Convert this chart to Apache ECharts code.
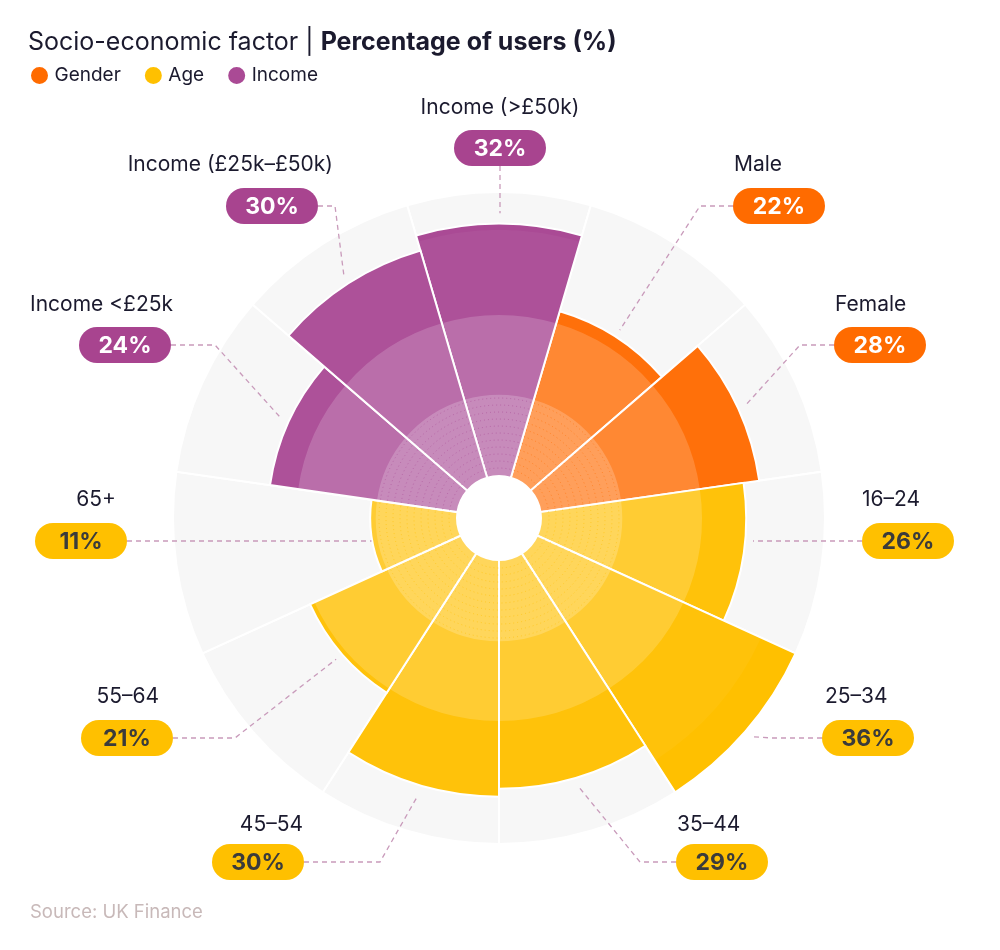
<!DOCTYPE html>
<html>
<head>
<meta charset="utf-8">
<script src="https://cdn.jsdelivr.net/npm/echarts@6/dist/echarts.min.js"></script>
<style>
  html, body { margin: 0; padding: 0; background: #fff; }
  #chart { width: 1000px; height: 950px; }
</style>
</head>
<body>
<div id="chart"></div>
<script>
// data, clockwise from the top
const categories = ['Income (>£50k)', 'Male', 'Female', '16–24', '25–34', '35–44', '45–54', '55–64', '65+', 'Income <£25k', 'Income (£25k–£50k)'];
const values = [32, 22, 28, 26, 36, 29, 30, 21, 11, 24, 30];
const groups = ['Income', 'Gender', 'Gender', 'Age', 'Age', 'Age', 'Age', 'Age', 'Age', 'Income', 'Income'];
const groupNames = ['Gender', 'Age', 'Income'];

const groupColors = { Gender: '#FF6B00', Age: '#FFC000', Income: '#AA4A95' };
const pillColors = { Gender: '#FF6B00', Age: '#FFC000', Income: '#A8448F' };
const pillText = { Gender: '#fff', Age: '#3b3b3b', Income: '#fff' };

// where each label sits (pill centre, name anchor, leader elbow)
const labelPos = [
  { pill: [500, 148], name: [500, 108, 'center'], mode: 'v', gap: 1.3 },
  { pill: [779, 206], name: [734, 165, 'left'], elbow: 700, gap: 1 },
  { pill: [880, 345], name: [835, 305, 'left'], elbow: 800, gap: 1 },
  { pill: [908, 541], name: [862, 500, 'left'], mode: 'h', gap: 1 },
  { pill: [868, 738], name: [825, 697, 'left'], elbow: 772, gap: 1 },
  { pill: [722, 862], name: [677, 825, 'left'], elbow: 640, gap: 1 },
  { pill: [258, 862], name: [303, 825, 'right'], elbow: 380, gap: 1.5 },
  { pill: [127, 738], name: [159, 697, 'right'], elbow: 235, gap: 1 },
  { pill: [81, 541], name: [116, 500, 'right'], mode: 'h', gap: 0.1 },
  { pill: [125, 345], name: [173, 305, 'right'], elbow: 215, gap: 1 },
  { pill: [272, 206], name: [333, 165, 'right'], elbow: 335, gap: 1 }
];

const FONT = 'Inter, "Noto Sans", sans-serif';
const MAXV = 36;
const PILL_W = 92, PILL_H = 36;

const chart = echarts.init(document.getElementById('chart'));

function groupSeries(g) {
  return {
    name: g,
    type: 'bar',
    coordinateSystem: 'polar',
    data: values.map((v, i) => groups[i] === g ? v : '-'),
    barGap: '-100%',
    barCategoryGap: '0%',
    itemStyle: { color: groupColors[g], borderColor: '#fff', borderWidth: 2 },
    silent: true,
    z: 3
  };
}

// white veils that lighten the inner part of every bar
function veil(cap, alpha, z) {
  return {
    type: 'bar',
    coordinateSystem: 'polar',
    data: values.map(v => Math.min(v, cap)),
    barGap: '-100%',
    barCategoryGap: '0%',
    itemStyle: { color: 'rgba(255,255,255,' + alpha + ')' },
    silent: true,
    z: z
  };
}

chart.setOption({
  animation: false,
  title: {
    text: '{a|Socio-economic factor | }{b|Percentage of users (%)}',
    left: 23,
    top: 25,
    textStyle: {
      fontWeight: 'normal',
      rich: {
        a: { fontSize: 25, color: '#1b1a2e', fontFamily: FONT, fontWeight: 'normal' },
        b: { fontSize: 25, color: '#1b1a2e', fontFamily: FONT, fontWeight: 'bold' }
      }
    }
  },
  legend: {
    data: groupNames,
    left: 29,
    top: 65,
    padding: 0,
    icon: 'circle',
    itemWidth: 20,
    itemHeight: 19,
    itemGap: 22,
    textStyle: { fontSize: 19, color: '#1b1a2e', fontFamily: FONT }
  },
  polar: { center: ['49.9%', '54.53%'], radius: [42, 326] },
  angleAxis: {
    type: 'category',
    data: categories,
    startAngle: 90 + 180 / categories.length,
    axisLine: { show: false },
    axisTick: { show: false },
    axisLabel: { show: false },
    splitLine: { show: false }
  },
  radiusAxis: {
    min: 0,
    max: MAXV,
    axisLine: { show: false },
    axisTick: { show: false },
    axisLabel: { show: false },
    splitLine: { show: false }
  },
  series: [
    {
      type: 'bar',
      coordinateSystem: 'polar',
      data: categories.map(() => MAXV),
      barGap: '-100%',
      barCategoryGap: '0%',
      itemStyle: { color: '#F7F7F7', borderColor: '#fff', borderWidth: 2 },
      silent: true,
      z: 1
    },
    groupSeries('Gender'),
    groupSeries('Age'),
    groupSeries('Income'),
    veil(31.2, 0.04, 4),
    veil(20.4, 0.17, 5),
    veil(10.3, 0.2, 6),
    {
      // dotted rings inside the lighter core
      type: 'custom',
      coordinateSystem: 'polar',
      silent: true,
      z: 7,
      data: values.map((v, i) => [v, i]),
      encode: { radius: 0, angle: 1 },
      renderItem: function (params, api) {
        const cs = params.coordSys;
        const v = api.value(0), i = api.value(1);
        const a = -api.coord([0, i])[3];
        const half = Math.PI / categories.length - 0.012;
        const rEnd = api.coord([Math.min(v, 10.3), i])[2];
        const kids = [];
        for (let r = cs.r0 + 8; r < rEnd - 3; r += 7) {
          kids.push({
            type: 'arc',
            shape: { cx: cs.cx, cy: cs.cy, r: r, startAngle: a - half, endAngle: a + half },
            style: { stroke: groupColors[groups[i]], lineWidth: 1, lineDash: [1, 3], fill: null, opacity: 0.55 }
          });
        }
        return { type: 'group', children: kids };
      }
    },
    {
      // leader lines, value pills and category names
      type: 'custom',
      coordinateSystem: 'polar',
      silent: true,
      z: 10,
      clip: false,
      data: values.map((v, i) => [v, i]),
      encode: { radius: 0, angle: 1 },
      renderItem: function (params, api) {
        const cs = params.coordSys;
        const v = api.value(0), i = api.value(1);
        const L = labelPos[i];
        const g = groups[i];
        const px = L.pill[0], py = L.pill[1];
        const tip = api.coord([v + L.gap, i]);
        const right = px > cs.cx;
        const edge = right ? px - PILL_W / 2 : px + PILL_W / 2;
        let pts;
        if (L.mode === 'v') {
          pts = [[px, py + PILL_H / 2], [px, tip[1]]];
        } else if (L.mode === 'h') {
          const dy = py - cs.cy;
          const dx = Math.sqrt(Math.max(tip[2] * tip[2] - dy * dy, 0));
          pts = [[edge, py], [right ? cs.cx + dx : cs.cx - dx, py]];
        } else {
          pts = [[edge, py], [L.elbow, py], [tip[0], tip[1]]];
        }
        return {
          type: 'group',
          children: [
            {
              type: 'polyline',
              shape: { points: pts },
              style: { stroke: '#C99BBB', lineWidth: 1.3, lineDash: [5, 4], fill: null }
            },
            {
              type: 'rect',
              shape: { x: px - PILL_W / 2, y: py - PILL_H / 2, width: PILL_W, height: PILL_H, r: PILL_H / 2 },
              style: { fill: pillColors[g] }
            },
            {
              type: 'text',
              x: px, y: py + 1,
              style: {
                text: v + '%', fill: pillText[g], fontSize: 23, fontWeight: 'bold',
                fontFamily: FONT, align: 'center', verticalAlign: 'middle'
              }
            },
            {
              type: 'text',
              x: L.name[0], y: L.name[1],
              style: {
                text: categories[i], fill: '#1b1a2e', fontSize: 21,
                fontFamily: FONT, align: L.name[2], verticalAlign: 'middle'
              }
            }
          ]
        };
      }
    }
  ],
  graphic: [
    {
      type: 'text',
      left: 30,
      top: 903,
      style: { text: 'Source: UK Finance', fill: '#C8B9B9', fontSize: 18.5, fontFamily: FONT }
    }
  ]
});
</script>
</body>
</html>
